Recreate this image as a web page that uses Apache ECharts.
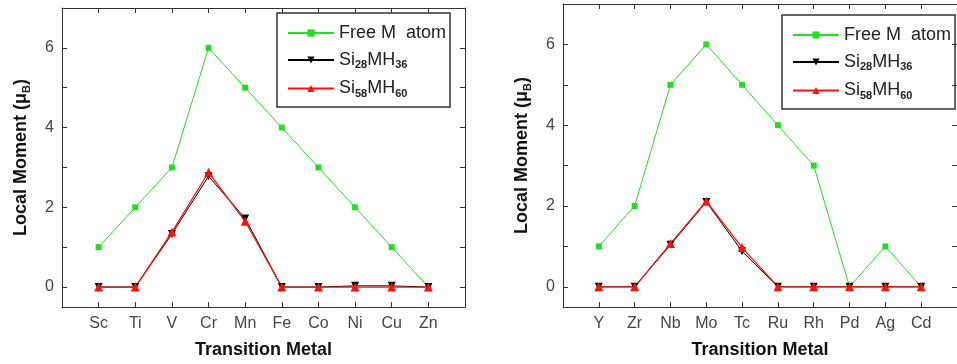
<!DOCTYPE html>
<html>
<head>
<meta charset="utf-8">
<script src="https://cdn.jsdelivr.net/npm/echarts@6/dist/echarts.min.js"></script>
<style>
  html, body { margin: 0; padding: 0; background: #fff; }
  #main { width: 957px; height: 364px; }
</style>
</head>
<body>
<div id="main"></div>
<script>
// 3d metals (left panel)
var metals1 = ['Sc', 'Ti', 'V', 'Cr', 'Mn', 'Fe', 'Co', 'Ni', 'Cu', 'Zn'];
var free1 = [1, 2, 3, 6, 5, 4, 3, 2, 1, 0];
var si28_1 = [0, 0, 1.33, 2.78, 1.72, 0, 0, 0.03, 0.03, 0];
var si58_1 = [0, 0, 1.38, 2.88, 1.65, 0, 0, 0, 0, 0];
// 4d metals (right panel)
var metals2 = ['Y', 'Zr', 'Nb', 'Mo', 'Tc', 'Ru', 'Rh', 'Pd', 'Ag', 'Cd'];
var free2 = [1, 2, 5, 6, 5, 4, 3, 0, 1, 0];
var si28_2 = [0, 0, 1.04, 2.1, 0.88, 0, 0, 0, 0, 0];
var si58_2 = [0, 0, 1.07, 2.12, 0.97, 0, 0, 0, 0, 0];
var yLabels = [0, 2, 4, 6];
var yTicks = [0, 1, 2, 3, 4, 5, 6];
var xTicks = [1, 2, 3, 4, 5, 6, 7, 8, 9, 10];

var seriesNames = ['Free M atom', 'Si28MH36', 'Si58MH60'];
var legendText = {
  'Free M atom': 'Free M  atom',
  'Si28MH36': 'Si{sub|28}MH{sub|36}',
  'Si58MH60': 'Si{sub|58}MH{sub|60}'
};

var myChart = echarts.init(document.getElementById('main'));

function pts(arr) {
  return arr.map(function (v, i) { return [i + 1, v]; });
}

var font = 'Liberation Sans, Arial, sans-serif';
var subRich = {
  sub: { fontSize: 11, fontFamily: font, fontWeight: 'bold', color: '#222', verticalAlign: 'bottom', padding: [10, 0, 0, 0] }
};

function xAx(grid, names, top) {
  return {
    type: 'value', gridIndex: grid, min: 0, max: 11,
    position: top ? 'top' : 'bottom',
    name: top ? '' : 'Transition Metal',
    nameLocation: 'middle', nameGap: 34,
    nameTextStyle: { fontSize: 18, fontWeight: 'bold', fontFamily: font, color: '#111' },
    axisLine: { show: true, onZero: false, lineStyle: { color: '#333', width: 1 } },
    axisTick: { show: true, inside: true, length: 5, customValues: xTicks, lineStyle: { color: '#333' } },
    axisLabel: {
      show: !top, fontSize: 16, fontFamily: font, color: '#444', margin: 9,
      customValues: xTicks,
      formatter: function (v) { return names[v - 1] || ''; }
    },
    splitLine: { show: false }
  };
}

function yAx(grid, right) {
  return {
    type: 'value', gridIndex: grid, min: -0.5, max: 7,
    position: right ? 'right' : 'left',
    name: right ? '' : 'Local Moment (μ{sub|B})',
    nameLocation: 'middle', nameGap: 30, nameRotate: 90,
    nameTextStyle: { fontSize: 18, fontWeight: 'bold', fontFamily: font, color: '#111', rich: subRich },
    axisLine: { show: true, onZero: false, lineStyle: { color: '#333', width: 1 } },
    axisTick: { show: true, inside: true, length: 5, customValues: yTicks, lineStyle: { color: '#333' } },
    axisLabel: {
      show: !right, fontSize: 16, fontFamily: font, color: '#444', margin: 8,
      customValues: yLabels
    },
    splitLine: { show: false }
  };
}

function panel(grid, free, si28, si58) {
  return [
    {
      name: 'Free M atom', type: 'line', xAxisIndex: grid * 2, yAxisIndex: grid * 2,
      data: pts(free), color: '#22dd22', symbol: 'rect', symbolSize: 6,
      lineStyle: { width: 1 }, itemStyle: { color: '#22dd22' }
    },
    {
      name: 'Si28MH36', type: 'line', xAxisIndex: grid * 2, yAxisIndex: grid * 2,
      data: pts(si28), color: '#000', symbol: 'triangle', symbolRotate: 180, symbolSize: 8,
      lineStyle: { width: 1 }, itemStyle: { color: '#000' }
    },
    {
      name: 'Si58MH60', type: 'line', xAxisIndex: grid * 2, yAxisIndex: grid * 2,
      data: pts(si58), color: '#ff1010', symbol: 'triangle', symbolSize: 9,
      lineStyle: { width: 1.3 }, itemStyle: { color: '#ff1010' }
    }
  ];
}

function legend(left, top) {
  return {
    data: seriesNames, orient: 'vertical', left: left, top: top,
    itemWidth: 46, itemHeight: 9, itemGap: 9,
    padding: [11, 4, 8, 10],
    borderColor: '#333', borderWidth: 1.5,
    textStyle: { fontSize: 18, fontFamily: font, color: '#222', rich: subRich },
    formatter: function (n) { return legendText[n]; }
  };
}

var option = {
  animation: false,
  backgroundColor: '#fff',
  grid: [
    { left: 62, top: 8, width: 403, height: 299 },
    { left: 563, top: 4, width: 404, height: 303 }
  ],
  legend: [legend(277, 13), legend(782, 15)],
  xAxis: [xAx(0, metals1, false), xAx(0, metals1, true), xAx(1, metals2, false), xAx(1, metals2, true)],
  yAxis: [yAx(0, false), yAx(0, true), yAx(1, false), yAx(1, true)],
  series: panel(0, free1, si28_1, si58_1).concat(panel(1, free2, si28_2, si58_2))
};

myChart.setOption(option);
</script>
</body>
</html>
